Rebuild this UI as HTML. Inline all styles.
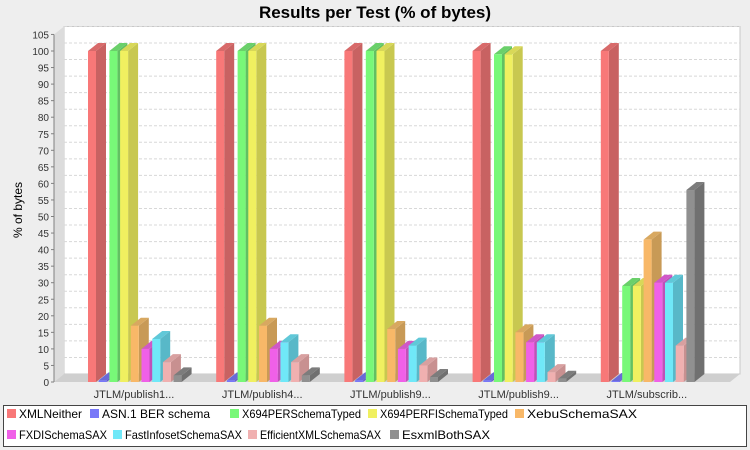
<!DOCTYPE html>
<html><head><meta charset="utf-8">
<style>
body{margin:0;background:#eeeeee;font-family:"Liberation Sans",sans-serif;}
svg{display:block}
</style></head>
<body>
<svg id="chart" width="750" height="450" viewBox="0 0 750 450">
<rect x="0" y="0" width="750" height="450" fill="#eeeeee"/>
<text x="375" y="18" text-anchor="middle" font-size="17" font-weight="bold" fill="#000">Results per Test (% of bytes)</text>
<text transform="translate(22,210) rotate(-90)" text-anchor="middle" font-size="12" fill="#000">% of bytes</text>
<g id="plot"></g>
<g id="legend"></g>
</svg>
<script>
const categories = ["JTLM/publish1...","JTLM/publish4...","JTLM/publish9...","JTLM/publish9...","JTLM/subscrib..."];
const seriesNames = ["XMLNeither","ASN.1 BER schema","X694PERSchemaTyped","X694PERFISchemaTyped","XebuSchemaSAX","FXDISchemaSAX","FastInfosetSchemaSAX","EfficientXMLSchemaSAX","EsxmlBothSAX"];
const s0 = [100,100,100,100,100];
const s1 = [0.5,0.5,0.5,0.5,0.3];
const s2 = [100,100,100,99,29];
const s3 = [100,100,100,99,29];
const s4 = [17,17,16,15,43];
const s5 = [10,10,10,12,30];
const s6 = [13,12,11,12,30];
const s7 = [6,6,5,3,11];
const s8 = [2,2,1.5,1,58];
const seriesValues = [s0,s1,s2,s3,s4,s5,s6,s7,s8];
const yTicks = [0,5,10,15,20,25,30,35,40,45,50,55,60,65,70,75,80,85,90,95,100,105];

const NS="http://www.w3.org/2000/svg";
const front=["#f87878","#7878f8","#78f878","#f0f060","#f8b868","#f060e8","#70e8f8","#f0b0b0","#909090"];
const side =["#c86262","#5c5cc8","#62c062","#c8c850","#c89a56","#c050b8","#58b8c8","#c89090","#707070"];
const topc =["#d86a6a","#6a6ad8","#6ad06a","#d8d858","#d8a860","#d058c8","#60c8d8","#d8a0a0","#7c7c7c"];
const DX=10, DY=8, X0=54, X1=730, Y0=382, SCALE=3.31;
function y(v){return Y0-v*SCALE;}
function el(tag,attrs,parent){const e=document.createElementNS(NS,tag);for(const k in attrs)e.setAttribute(k,attrs[k]);parent.appendChild(e);return e;}
const plot=document.getElementById('plot');
const wall=el('polygon',{points:`${X0+DX},${y(105)-DY} 740,${y(105)-DY} 740,${Y0-DY} ${X0+DX},${Y0-DY}`,fill:'#ffffff',stroke:'#c8c8c8'},plot);


const lwall=el('polygon',{points:`${X0},${y(105)} ${X0+DX},${y(105)-DY} ${X0+DX},${Y0-DY} ${X0},${Y0}`,fill:'#dcdcdc'},plot);


const floor=el('polygon',{points:`${X0},${Y0} ${X0+DX},${Y0-DY} 740,${Y0-DY} ${X1},${Y0}`,fill:'#cfcfcf'},plot);


yTicks.forEach(t=>{
  if(t>0){const g=el('line',{x1:X0+DX,x2:740,y1:y(t)-DY,y2:y(t)-DY,stroke:'#d8d8d8','stroke-dasharray':'3,2'},plot);
  
  }
  const tk=el('line',{x1:X0-3,x2:X0,y1:y(t),y2:y(t),stroke:'#808080'},plot);
  
  
  const tl=el('text',{x:X0-5,y:y(t)+4,'text-anchor':'end','font-size':'10',fill:'#333'},plot);
  tl.textContent=t;
  
  
});
const ax=el('line',{x1:X0,x2:X0,y1:y(105),y2:Y0,stroke:'#808080'},plot);


const GX0=88, GSTEP=128.2, BSTEP=10.7, BW=8;
categories.forEach((c,ci)=>{
  const gx=GX0+ci*GSTEP;
  seriesValues.forEach((arr,si)=>{
    const v=arr[ci], x=gx+si*BSTEP, yt=y(v);
    const g=el('g',{},plot);
    
    
    el('polygon',{points:`${x+BW},${yt} ${x+BW+DX},${yt-DY} ${x+BW+DX},${Y0-DY} ${x+BW},${Y0}`,fill:side[si]},g);
    el('polygon',{points:`${x},${yt} ${x+DX},${yt-DY} ${x+BW+DX},${yt-DY} ${x+BW},${yt}`,fill:topc[si]},g);
    el('rect',{x:x,y:yt,width:BW,height:Math.max(0,Y0-yt),fill:front[si]},g);
  });
  const cl=el('text',{x:gx+46,y:398,'text-anchor':'middle','font-size':'11',fill:'#333'},plot);
  cl.textContent=c;
  
  
});
const lg=document.getElementById('legend');
const box=el('rect',{x:3.5,y:405.5,width:743,height:41,fill:'#fff',stroke:'#444'},lg);


const legPos=[[7,418],[90,418],[230,418],[368,418],[515,418],[7,439],[113,439],[248,439],[390,439]];
const legW=[63,108,119,128,110,88,117,121,88];
seriesNames.forEach((n,i)=>{
  const g=el('g',{},lg);
  
  
  const [lx,ly]=legPos[i];
  el('rect',{x:lx,y:ly-9,width:9,height:9,fill:front[i]},g);
  const t=el('text',{x:lx+12,y:ly,'font-size':'12',fill:'#000',textLength:legW[i],lengthAdjust:'spacingAndGlyphs'},g);
  t.textContent=n;
});
</script>
</body></html>
